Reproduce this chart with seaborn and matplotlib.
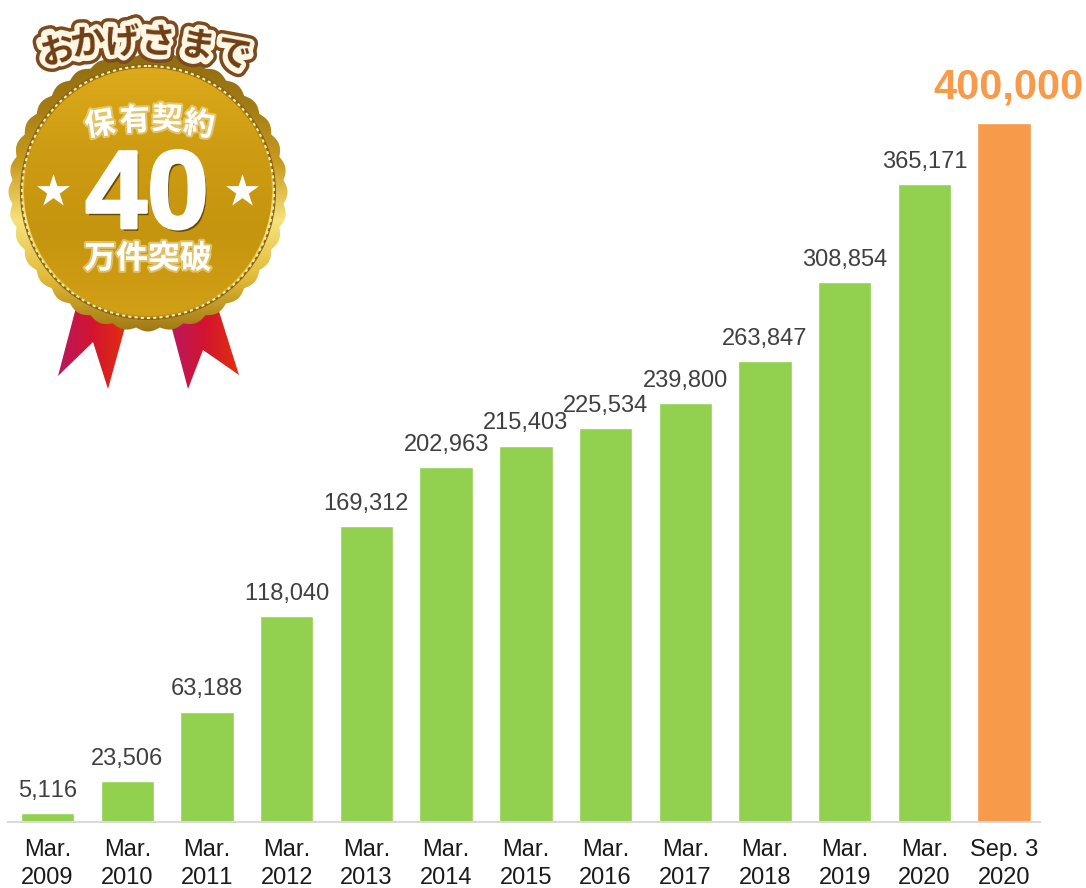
import numpy as np
import pandas as pd
import matplotlib
matplotlib.use('Agg')
import matplotlib.pyplot as plt
import matplotlib.patches as patches
import matplotlib.patheffects as pe
from matplotlib.colors import LinearSegmentedColormap
import seaborn as sns

# Chart data
periods = ['Mar.\n2009', 'Mar.\n2010', 'Mar.\n2011', 'Mar.\n2012', 'Mar.\n2013', 'Mar.\n2014', 'Mar.\n2015',
           'Mar.\n2016', 'Mar.\n2017', 'Mar.\n2018', 'Mar.\n2019', 'Mar.\n2020', 'Sep. 3\n2020']
contracts = [5116, 23506, 63188, 118040, 169312, 202963, 215403, 225534, 239800, 263847, 308854, 365171, 400000]

GREEN = '#92d050'
ORANGE = '#f79a4a'
CJK = ['Noto Sans CJK JP', 'DejaVu Sans']

sns.set_theme(style='white')
plt.rcParams['font.family'] = ['Liberation Sans', 'DejaVu Sans']
plt.rcParams['text.kerning_factor'] = 6

fig = plt.figure(figsize=(10.86, 8.88), dpi=100)
ax = fig.add_axes([8 / 1086, 66 / 888, 1032 / 1086, 822 / 888])

df = pd.DataFrame({'period': periods, 'contracts': contracts})
colors = [GREEN] * (len(periods) - 1) + [ORANGE]
sns.barplot(data=df, x='period', y='contracts', hue='period', palette=colors, legend=False,
            width=0.67, saturation=1, ax=ax)

ax.set_xlim(-0.496, 12.45)
ax.set_ylim(0, 470386)
ax.set_xlabel('')
ax.set_ylabel('')
ax.set_yticks([])
ax.patch.set_alpha(0)
for side in ['top', 'left', 'right']:
    ax.spines[side].set_visible(False)
ax.spines['bottom'].set_color('#d9d9d9')
ax.spines['bottom'].set_linewidth(1.5)
ax.tick_params(axis='x', length=0, pad=12, labelsize=17, labelcolor='#1a1a1a')
for label in ax.get_xticklabels():
    label.set_linespacing(1.36)

# Value labels
for container in ax.containers:
    bar = container[0]
    value = int(bar.get_height())
    if value == contracts[-1]:
        ax.annotate(f'{value:,}', (bar.get_x() + bar.get_width() / 2, value), xytext=(3.5, 11),
                    textcoords='offset points', ha='center', va='bottom', fontsize=30,
                    fontweight='bold', color=ORANGE)
    else:
        ax.bar_label(container, labels=[f'{value:,}'], padding=8, fontsize=17, color='#404040')

# Medal, drawn on a pixel-sized overlay
deco = fig.add_axes([0, 0, 1, 1])
deco.patch.set_alpha(0)
deco.axis('off')


def gradient_fill(target, stops, box, zorder, horizontal=False):
    cmap = LinearSegmentedColormap.from_list('fill', stops)
    grad = np.linspace(0, 1, 256).reshape(1, -1) if horizontal else np.linspace(0, 1, 256).reshape(-1, 1)
    im = deco.imshow(grad, cmap=cmap, extent=box, aspect='auto', origin='upper', zorder=zorder)
    deco.add_patch(target)
    target.set_facecolor('none')
    target.set_edgecolor('none')
    im.set_clip_path(target)


cx, cy = 148, 192

# Ribbons
left_ribbon = patches.Polygon([(78, 300), (127, 320), (108, 389), (93, 342), (58, 376)], closed=True, zorder=1)
gradient_fill(left_ribbon, ['#b8185e', '#d4142f', '#e0300f'], (58, 127, 389, 300), 1, horizontal=True)
right_ribbon = patches.Polygon([(171, 325), (217, 305), (239, 375), (203, 350), (188, 389)], closed=True, zorder=1)
gradient_fill(right_ribbon, ['#b8185e', '#d4142f', '#e0300f'], (171, 239, 389, 300), 1, horizontal=True)

# Scalloped rim
theta = np.linspace(0, 2 * np.pi, 1440)
rim_r = 136 + 3.5 * np.abs(np.cos(18 * theta))
rim = patches.Polygon(np.column_stack([cx + rim_r * np.cos(theta), cy + rim_r * np.sin(theta)]), closed=True, zorder=2)
gradient_fill(rim, ['#8d6a12', '#a47c14', '#c99c20', '#f6e27c', '#e2bb3a', '#9c7410'], (0, 300, 335, 50), 2)

# Gold disc and rope ring
disc = patches.Circle((cx, cy), 124, zorder=3)
gradient_fill(disc, ['#dcaa1a', '#cd9c12', '#c6950f', '#d2a015'], (20, 280, 316, 68), 3)
deco.add_patch(patches.Circle((cx, cy), 127, fill=False, edgecolor='#8a6510', linewidth=1.5, zorder=4))
deco.add_patch(patches.Circle((cx, cy), 126, fill=False, edgecolor='#f7e9a8', linewidth=1.5,
                              linestyle=(0, (1.5, 1.5)), zorder=4))

# Medal text
glow = [pe.withStroke(linewidth=3, foreground='#f3e3b0', alpha=0.55)]
for ch, x, y, rot in zip('保有契約', [100, 135, 167, 199], [125, 121, 120, 125], [9, 3, -3, -9]):
    deco.text(x, y, ch, family=CJK, fontsize=22, fontweight='bold', color='white', rotation=rot,
              ha='center', va='center', zorder=6, path_effects=glow)
deco.text(147, 228, '40', family=['Liberation Sans'], fontsize=80, fontweight='bold', color='white',
          ha='center', va='baseline', zorder=6,
          path_effects=[pe.withSimplePatchShadow(offset=(1.5, -2), shadow_rgbFace='#5a4206', alpha=0.9),
                        pe.withStroke(linewidth=2, foreground='white')])
deco.text(148, 259, '万件突破', family=CJK, fontsize=23, fontweight='bold', color='white',
          ha='center', va='center', zorder=6, path_effects=glow)
deco.scatter([53, 242], [191, 191], marker='*', s=620, color='white', linewidths=0, zorder=6)

# Banner text
banner_chars = 'おかげさまで'
banner_x = [57, 88, 122, 157, 197, 233]
banner_y = [50, 44, 42, 42, 47, 55]
banner_rot = [14, 8, 3, -3, -10, -15]
for width, color, z in [(12, '#7b4a1e', 7), (7, '#fff6e4', 8)]:
    for ch, x, y, rot in zip(banner_chars, banner_x, banner_y, banner_rot):
        deco.text(x, y, ch, family=CJK, fontsize=25, fontweight='bold', color=color, rotation=rot,
                  ha='center', va='center', zorder=z,
                  path_effects=[pe.withStroke(linewidth=width, foreground=color)])
for ch, x, y, rot in zip(banner_chars, banner_x, banner_y, banner_rot):
    deco.text(x, y, ch, family=CJK, fontsize=25, fontweight='bold', color='#6e3d14', rotation=rot,
              ha='center', va='center', zorder=9)

deco.set_xlim(0, 1086)
deco.set_ylim(888, 0)

fig.savefig('out.png', dpi=100, facecolor='white')
